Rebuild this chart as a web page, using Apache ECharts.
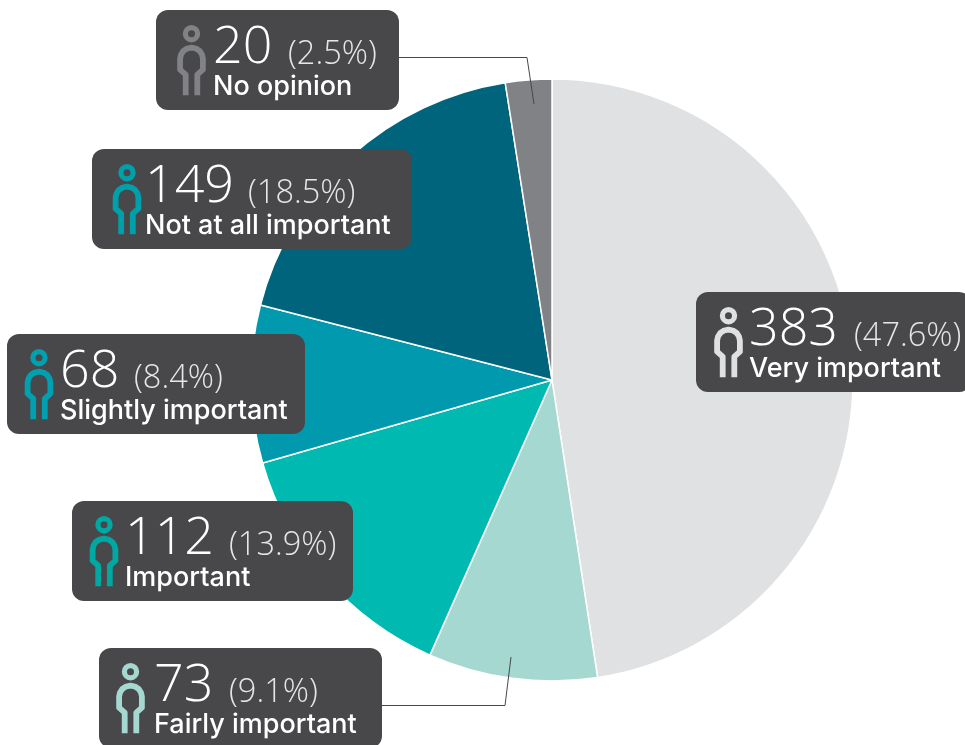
<!DOCTYPE html>
<html><head><meta charset="utf-8">
<style>html,body{margin:0;padding:0;background:#fff}#c{width:965px;height:745px}</style>
<script src="https://cdn.jsdelivr.net/npm/echarts@6/dist/echarts.min.js"></script>
</head><body><div id="c"></div>
<script>
const categories = ['Very important','Fairly important','Important','Slightly important','Not at all important','No opinion'];
const counts = [383,73,112,68,149,20];
const shares = ['(47.6%)','(9.1%)','(13.9%)','(8.4%)','(18.5%)','(2.5%)'];
const sliceColors = ['#e0e1e3','#a5d8d0','#00bab1','#0099ae','#00657c','#808285'];
const iconColors = ['#dfe0e2','#a5d8d0','#00a8a3','#00a0b0','#00a0ab','#808285'];
// box left, box top, box width, icon x, count x, share x
const boxes = [
 [696,292,275,32.5,55,159],
 [99,648,283,31.5,57,131],
 [72,501,281,32,55,158],
 [7,334,298,32,55,128],
 [92,149,320,35,55,157],
 [156,10,243,35.5,59,133]
];
const leaders = [
 [[399,57.5],[527,57.5],[534,104]],
 [[382,705.5],[505,705.5],[511,657]]
];
const personPoints = [[-5.8,61.5],[-5.8,41],[-11.4,36],[-11.4,25],[-10.5,20.8],[-8.1,17.2],[-4.4,14.8],[0,14],[4.4,14.8],[8.1,17.2],[10.5,20.8],[11.4,25],[11.4,36],[5.8,41],[5.8,61.5]];
const numFont='"Open Sans", sans-serif', subFont='Inter, sans-serif';
const graphics = [];
leaders.forEach(pts=>graphics.push({type:'polyline',z:50,shape:{points:pts},style:{fill:null,stroke:'#48484a',lineWidth:1}}));
categories.forEach((name,i)=>{
  const [x,y,w,ix,nx,px]=boxes[i];
  graphics.push({type:'group',x,y,z:60,children:[
    {type:'rect',z:60,shape:{x:0,y:0,width:w,height:100,r:12},style:{fill:'#48484a'}},
    {type:'circle',z:61,shape:{cx:ix,cy:23.7,r:6.1},style:{fill:'none',stroke:iconColors[i],lineWidth:5.2}},
    {type:'polyline',z:61,x:ix,y:23.7,shape:{points:personPoints},style:{fill:'none',stroke:iconColors[i],lineWidth:5.8,lineJoin:'round'}},
    {type:'text',z:62,x:nx-2,y:64,style:{text:String(counts[i]),font:'300 52px '+numFont,fill:'#fff',verticalAlign:'bottom'}},
    {type:'text',z:62,x:px-1,y:61,style:{text:shares[i],font:'300 32.5px '+numFont,fill:'#e6e6e6',verticalAlign:'bottom'}},
    {type:'text',z:62,x:nx-2,y:90,style:{text:name,font:'500 27px '+subFont,fill:'#fff',verticalAlign:'bottom'}}
  ]});
});
const chart = echarts.init(document.getElementById('c'),null,{renderer:'canvas'});
chart.setOption({
  animation:false,
  graphic:{elements:graphics},
  series:[{
    type:'pie',center:[552,380],radius:[0,301],startAngle:90,clockwise:true,
    label:{show:false},labelLine:{show:false},silent:true,
    itemStyle:{borderColor:'#fff',borderWidth:1.5},
    data:categories.map((name,i)=>({name,value:counts[i],itemStyle:{color:sliceColors[i]}}))
  }]
});
</script></body></html>
